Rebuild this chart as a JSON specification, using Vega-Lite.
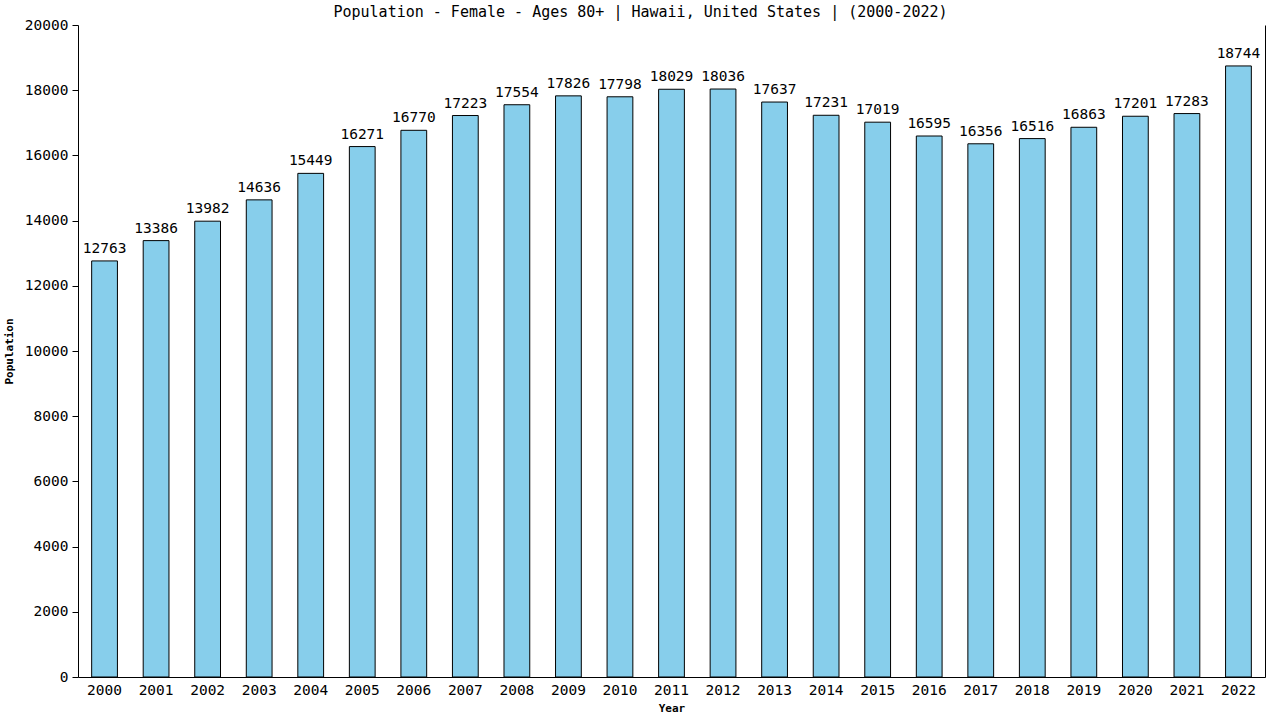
{
  "$schema": "https://vega.github.io/schema/vega-lite/v6.json",
  "width": 1187,
  "height": 652,
  "autosize": "none",
  "padding": {"left": 78, "top": 25, "right": 15, "bottom": 43},
  "background": "white",
  "title": {
    "text": "Population - Female - Ages 80+ | Hawaii, United States |  (2000-2022)",
    "font": "DejaVu Sans Mono",
    "fontSize": 15,
    "fontWeight": "normal",
    "color": "black",
    "anchor": "middle",
    "baseline": "alphabetic",
    "offset": -15,
    "dx": -31
  },
  "config": {
    "view": {"stroke": null},
    "axis": {
      "labelFont": "DejaVu Sans Mono",
      "labelFontSize": 14.5,
      "labelColor": "black",
      "titleFont": "DejaVu Sans Mono",
      "titleFontSize": 11,
      "titleFontWeight": "bold",
      "titleColor": "black",
      "domainColor": "black",
      "tickColor": "black",
      "grid": false
    }
  },
  "data": {
    "values": [
      {"Year": "2000", "Population": 12763},
      {"Year": "2001", "Population": 13386},
      {"Year": "2002", "Population": 13982},
      {"Year": "2003", "Population": 14636},
      {"Year": "2004", "Population": 15449},
      {"Year": "2005", "Population": 16271},
      {"Year": "2006", "Population": 16770},
      {"Year": "2007", "Population": 17223},
      {"Year": "2008", "Population": 17554},
      {"Year": "2009", "Population": 17826},
      {"Year": "2010", "Population": 17798},
      {"Year": "2011", "Population": 18029},
      {"Year": "2012", "Population": 18036},
      {"Year": "2013", "Population": 17637},
      {"Year": "2014", "Population": 17231},
      {"Year": "2015", "Population": 17019},
      {"Year": "2016", "Population": 16595},
      {"Year": "2017", "Population": 16356},
      {"Year": "2018", "Population": 16516},
      {"Year": "2019", "Population": 16863},
      {"Year": "2020", "Population": 17201},
      {"Year": "2021", "Population": 17283},
      {"Year": "2022", "Population": 18744}
    ]
  },
  "encoding": {
    "x": {
      "field": "Year",
      "type": "ordinal",
      "title": "Year",
      "scale": {"paddingInner": 0.5, "paddingOuter": 0.265},
      "axis": {
        "labelAngle": 0,
        "ticks": false,
        "labelPadding": 6,
        "titlePadding": 6
      }
    }
  },
  "layer": [
    {
      "mark": {"type": "bar", "color": "#87CEEB", "stroke": "black", "strokeWidth": 1},
      "encoding": {
        "y": {
          "field": "Population",
          "type": "quantitative",
          "title": "Population",
          "scale": {"domain": [0, 20000], "nice": false},
          "axis": {
            "values": [0, 2000, 4000, 6000, 8000, 10000, 12000, 14000, 16000, 18000, 20000],
            "format": "d",
            "tickSize": 6,
            "labelPadding": 4,
            "titlePadding": 10
          }
        }
      }
    },
    {
      "mark": {
        "type": "text",
        "baseline": "alphabetic",
        "dy": -8,
        "font": "DejaVu Sans Mono",
        "fontSize": 14.5,
        "color": "black"
      },
      "encoding": {
        "y": {
          "field": "Population",
          "type": "quantitative",
          "axis": {
            "orient": "right",
            "labels": false,
            "ticks": false,
            "title": null,
            "domain": true
          }
        },
        "text": {"field": "Population", "type": "quantitative", "format": "d"}
      }
    }
  ],
  "resolve": {"axis": {"y": "independent"}}
}
